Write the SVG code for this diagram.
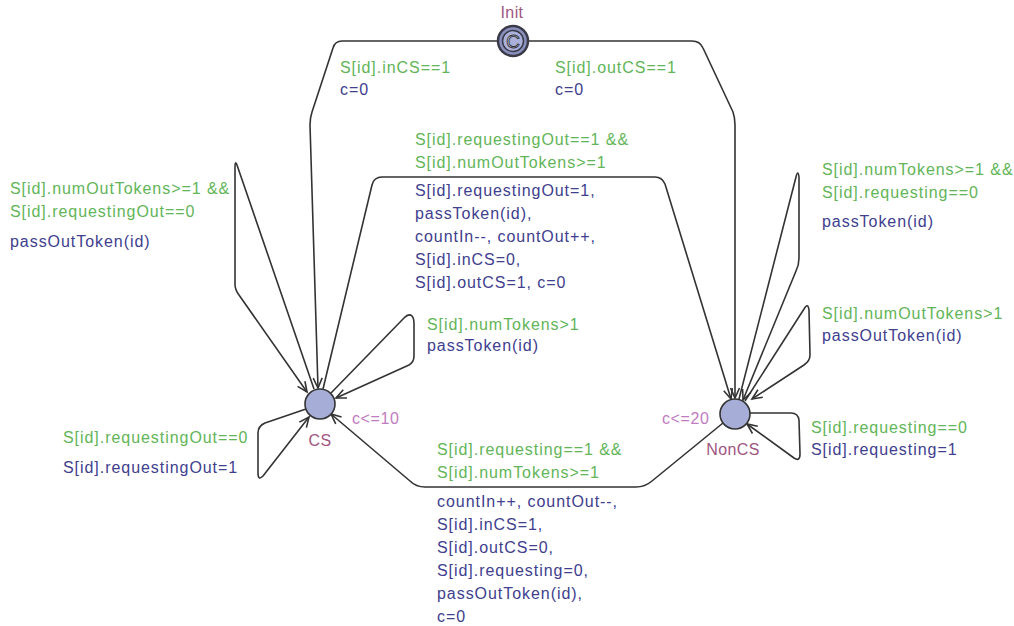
<svg xmlns="http://www.w3.org/2000/svg" width="1014" height="626" viewBox="0 0 1014 626">
  <style>
    text { font-family: "Liberation Sans", Arial, sans-serif; font-size: 16px; letter-spacing: 0.95px; }
    .g { fill: #62b558; }
    .a { fill: #40408e; }
    .name { fill: #a0557f; text-anchor: middle; letter-spacing: 0.4px; }
    .inv { fill: #c07cc0; letter-spacing: 0.6px; }
    .edge { fill: none; stroke: #333; stroke-width: 1.6; stroke-linejoin: round; marker-end: url(#arr); }
    .loc { fill: #a6add6; stroke: #333; stroke-width: 1.6; }
  </style>
  <defs>
    <marker id="arr" markerUnits="userSpaceOnUse" markerWidth="14" markerHeight="12" refX="0" refY="0" viewBox="-12 -6 14 12" orient="auto">
      <path d="M -10,-4.5 L 0,0 L -10,4.5" fill="none" stroke="#333" stroke-width="1.6"/>
    </marker>
  </defs>
  <rect width="1014" height="626" fill="#fff"/>

  <g id="connectors">
    <!-- Init -> CS -->
    <g id="e-init-cs">
      <path class="edge" d="M 497,41 H 342 Q 335,41 333,48 L 312,112 Q 310,118 310,125 L 318,388"/>
      <text class="g" x="340" y="73">S[id].inCS==1</text>
      <text class="a" x="340" y="95">c=0</text>
    </g>
    <!-- Init -> NonCS -->
    <g id="e-init-noncs">
      <path class="edge" d="M 529,41 H 692 Q 700,41 703,48 L 733,112 Q 735,118 735,125 L 735,398"/>
      <text class="g" x="555" y="73">S[id].outCS==1</text>
      <text class="a" x="555" y="95">c=0</text>
    </g>
    <!-- CS -> NonCS -->
    <g id="e-cs-noncs">
      <path class="edge" d="M 323,389 L 372,185 Q 374,177 382,177 H 655 Q 662,177 665,184 L 731,399"/>
      <text class="g" x="415" y="145">S[id].requestingOut==1 &amp;&amp;</text>
      <text class="g" x="415" y="168">S[id].numOutTokens&gt;=1</text>
      <text class="a" x="415" y="196">S[id].requestingOut=1,</text>
      <text class="a" x="415" y="219">passToken(id),</text>
      <text class="a" x="415" y="242">countIn--, countOut++,</text>
      <text class="a" x="415" y="265">S[id].inCS=0,</text>
      <text class="a" x="415" y="288">S[id].outCS=1, c=0</text>
    </g>
    <!-- NonCS -> CS -->
    <g id="e-noncs-cs">
      <path class="edge" d="M 723,423 L 652,481 Q 645,487 636,487 H 425 Q 416,487 410,481 L 331,414"/>
      <text class="g" x="437" y="455">S[id].requesting==1 &amp;&amp;</text>
      <text class="g" x="437" y="478">S[id].numTokens&gt;=1</text>
      <text class="a" x="437" y="507">countIn++, countOut--,</text>
      <text class="a" x="437" y="530">S[id].inCS=1,</text>
      <text class="a" x="437" y="553">S[id].outCS=0,</text>
      <text class="a" x="437" y="576">S[id].requesting=0,</text>
      <text class="a" x="437" y="599">passOutToken(id),</text>
      <text class="a" x="437" y="622">c=0</text>
    </g>
    <!-- CS self loops -->
    <g id="e-cs-loop1">
      <path class="edge" d="M 314,389 L 237,165 Q 235,160 235,167 L 235,284 Q 235,290 239,295 L 307,392"/>
      <text class="g" x="10" y="194">S[id].numOutTokens&gt;=1 &amp;&amp;</text>
      <text class="g" x="10" y="217">S[id].requestingOut==0</text>
      <text class="a" x="10" y="247">passOutToken(id)</text>
    </g>
    <g id="e-cs-loop2">
      <path class="edge" d="M 331,393 L 404,318 Q 409,313 412,316 Q 414,318 414,324 L 414,356 Q 414,362 409,365 L 336,398"/>
      <text class="g" x="427" y="330">S[id].numTokens&gt;1</text>
      <text class="a" x="427" y="351">passToken(id)</text>
    </g>
    <g id="e-cs-loop3">
      <path class="edge" d="M 306,409 L 265,423 Q 258,426 258,433 L 258,473 Q 258,481 263,476 L 309,417"/>
      <text class="g" x="63" y="443">S[id].requestingOut==0</text>
      <text class="a" x="63" y="473">S[id].requestingOut=1</text>
    </g>
    <!-- NonCS self loops -->
    <g id="e-noncs-loop1">
      <path class="edge" d="M 739,399 L 796,177 Q 798,169 799,177 L 799,258 Q 799,265 796,271 L 743,400"/>
      <text class="g" x="822" y="175">S[id].numTokens&gt;=1 &amp;&amp;</text>
      <text class="g" x="822" y="198">S[id].requesting==0</text>
      <text class="a" x="822" y="227">passToken(id)</text>
    </g>
    <g id="e-noncs-loop2">
      <path class="edge" d="M 745,401 L 804,309 Q 808,302 809,310 L 810,355 Q 810,361 804,365 L 752,399"/>
      <text class="g" x="822" y="319">S[id].numOutTokens&gt;1</text>
      <text class="a" x="822" y="341">passOutToken(id)</text>
    </g>
    <g id="e-noncs-loop3">
      <path class="edge" d="M 750,413 H 791 Q 798,413 799,420 L 800,454 Q 800,462 794,458 L 747,424"/>
      <text class="g" x="811" y="433">S[id].requesting==0</text>
      <text class="a" x="811" y="455">S[id].requesting=1</text>
    </g>
  </g>

  <g id="node-init">
    <circle cx="513" cy="41" r="15" fill="#8a90bd" stroke="#3a3a48" stroke-width="2.5"/>
    <circle cx="513" cy="41" r="10.5" fill="#aab0da" stroke="#3a3a48" stroke-width="1.5"/>
    <text x="513" y="48" text-anchor="middle" style="font-size:19px;letter-spacing:0" fill="#c4c8ea" stroke="#333" stroke-width="0.9">C</text>
    <text class="name" x="512" y="18">Init</text>
  </g>
  <g id="node-cs">
    <circle class="loc" cx="320" cy="404" r="15"/>
    <text class="name" x="320" y="446">CS</text>
    <text class="inv" x="352" y="424">c&lt;=10</text>
  </g>
  <g id="node-noncs">
    <circle class="loc" cx="735" cy="414" r="15"/>
    <text class="name" x="733" y="455">NonCS</text>
    <text class="inv" x="662" y="424">c&lt;=20</text>
  </g>
</svg>
